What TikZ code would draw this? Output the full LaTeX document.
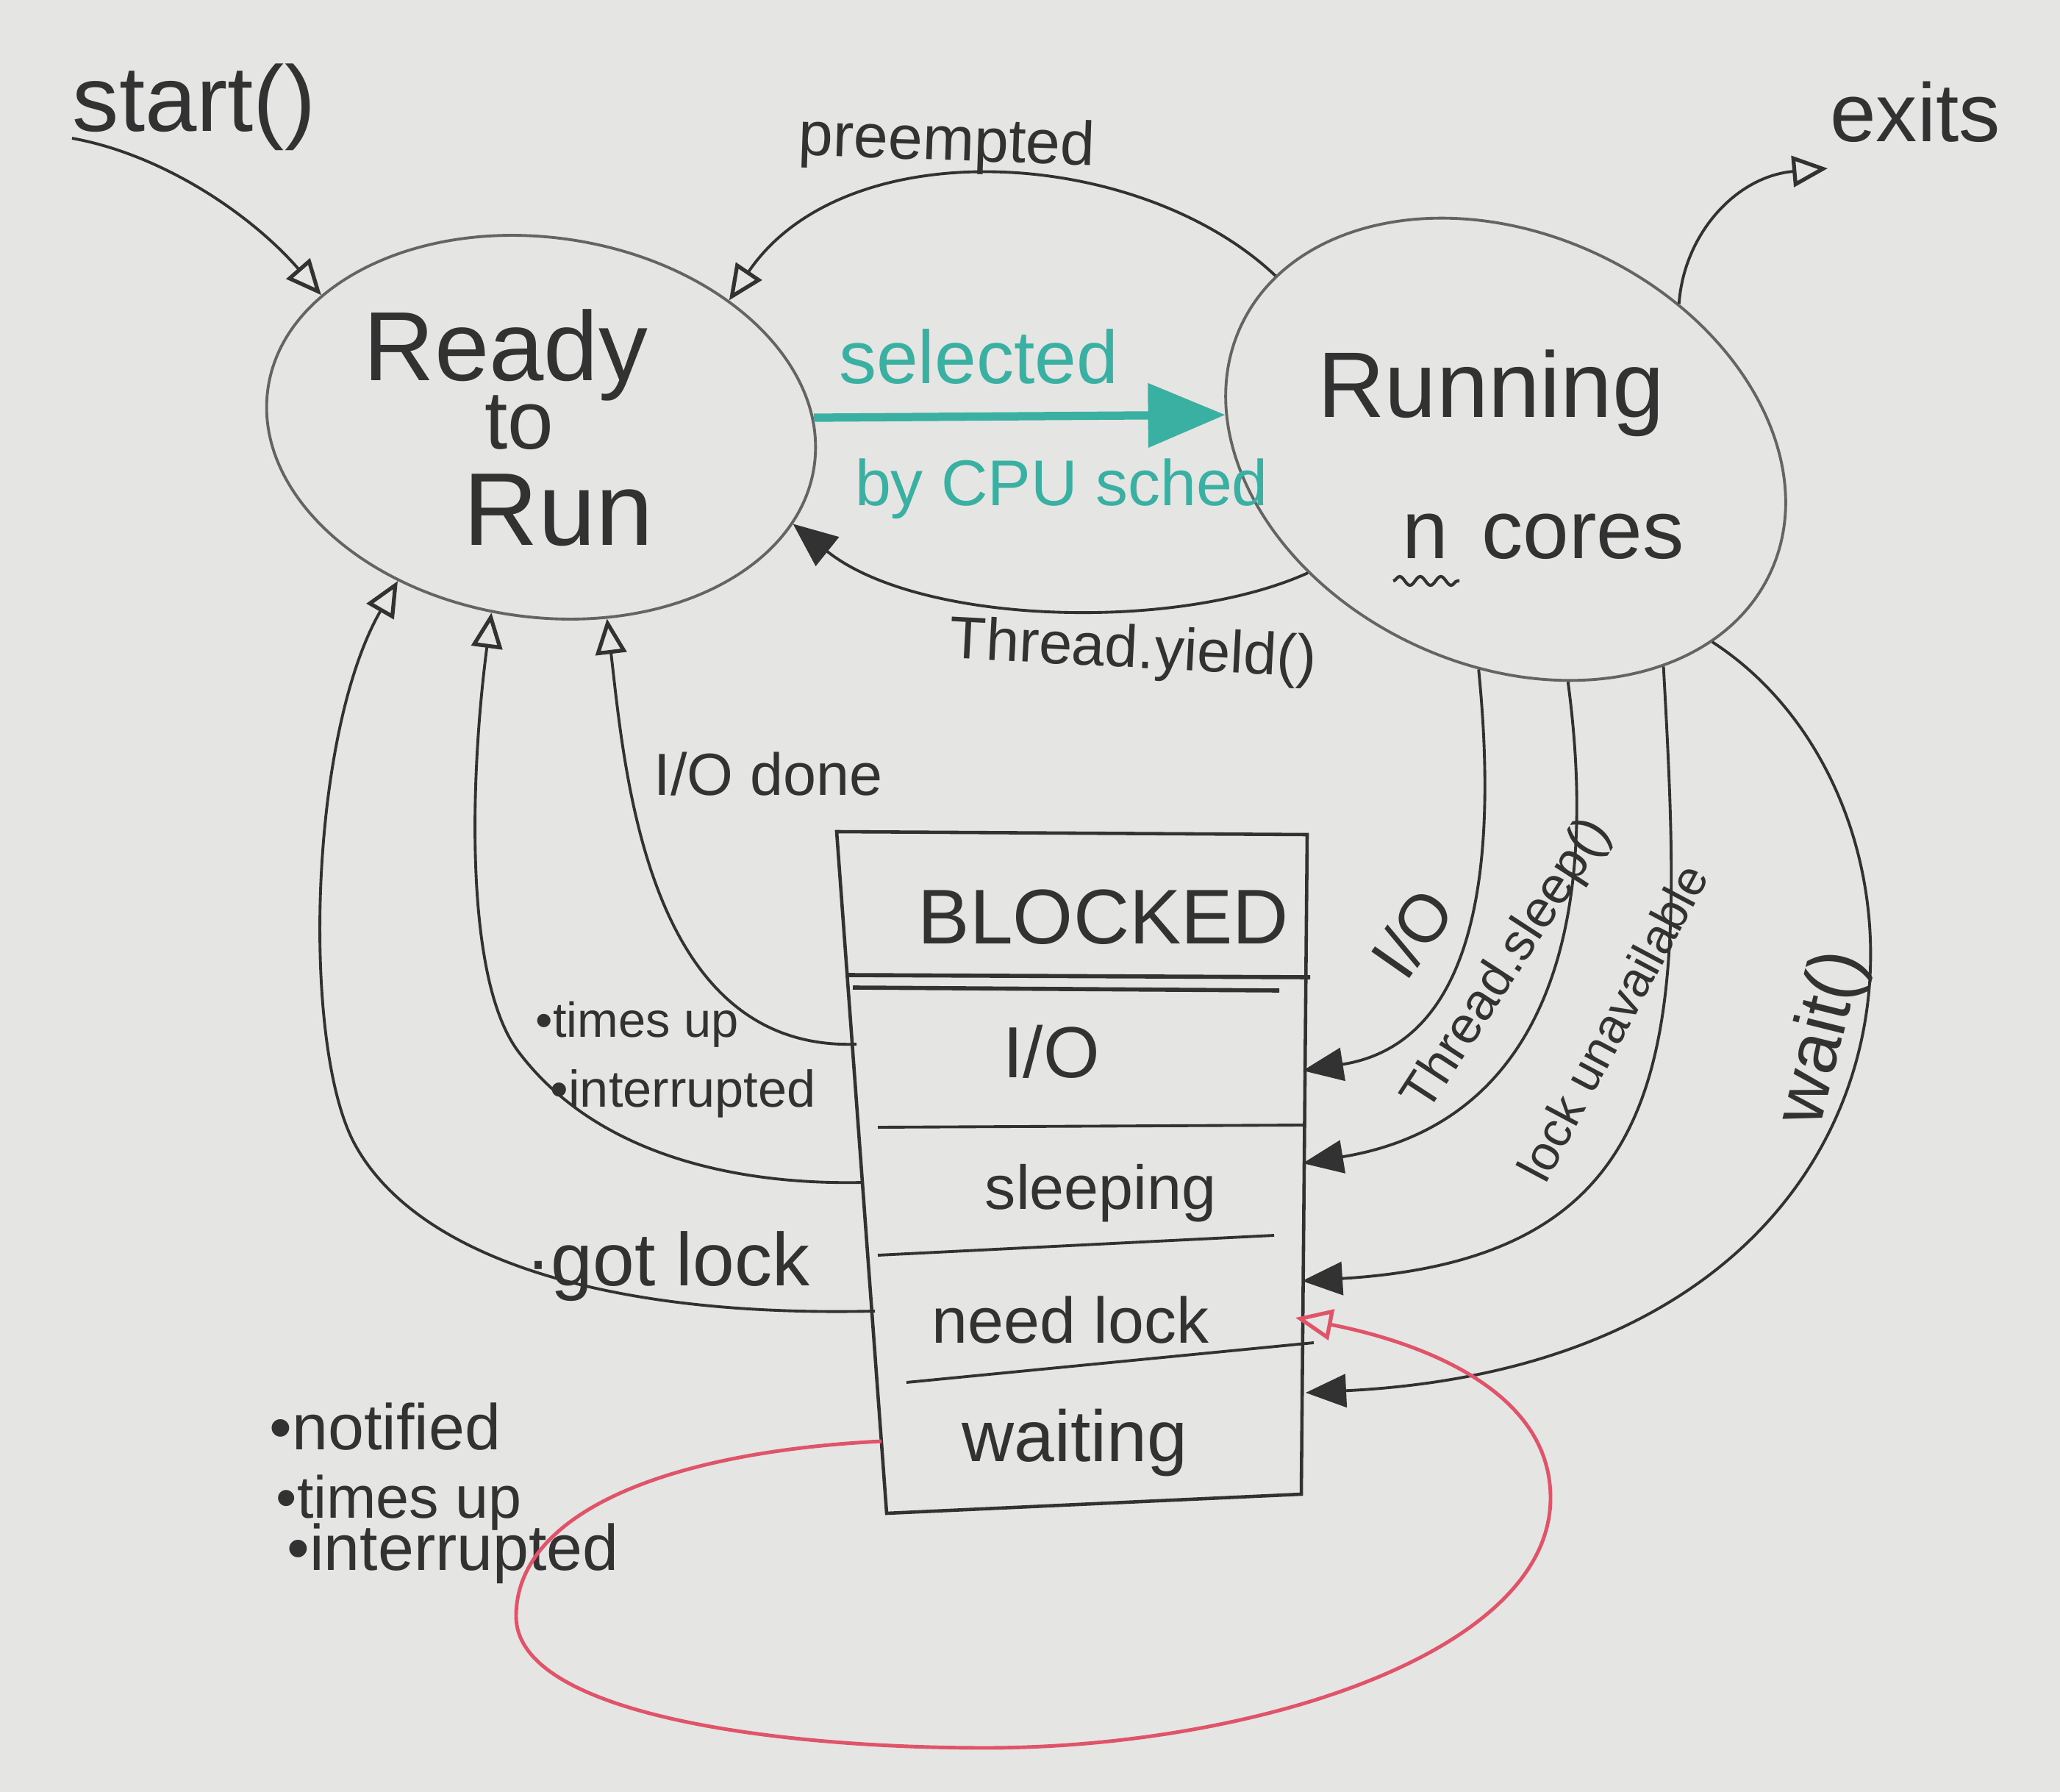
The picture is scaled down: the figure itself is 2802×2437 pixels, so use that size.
\documentclass[tikz,border=0pt]{standalone}
\usepackage{fontspec}
\setmainfont{Liberation Sans}
\usetikzlibrary{arrows.meta,shapes.geometric,calc,decorations.pathmorphing}
\definecolor{board}{RGB}{229,229,227}
\definecolor{ink}{RGB}{50,50,50}
\definecolor{pencil}{RGB}{100,100,100}
\definecolor{tealink}{RGB}{58,176,162}
\definecolor{redink}{RGB}{224,84,106}
\newcommand\hw[1]{\fontsize{#1}{#1}\selectfont}
\tikzset{
  state/.style={ellipse,draw=pencil,line width=1.1pt,inner sep=0pt},
  lbl/.style={inner sep=0pt,text=ink},
  conn/.style={draw=ink,line width=1.1pt},
  openhead/.style={-{Triangle[open,length=0.48cm,width=0.42cm,line width=1.5pt]}},
  fillhead/.style={-{Triangle[length=0.55cm,width=0.45cm]}},
  rule/.style={draw=ink,line width=1.1pt},
}
\begin{document}
\begin{tikzpicture}[x=0.01cm,y=-0.01cm]
\useasboundingbox[fill=board] (0,0) rectangle (2802,2437);

% ---- states
\node[state,minimum width=7.5cm,minimum height=5.16cm,rotate=-8] (ready) at (736,581) {};
\node[state,minimum width=7.94cm,minimum height=5.86cm,rotate=-25] (running) at (2048,611) {};

\node[lbl,font=\hw{38},anchor=base] (tReady) at (688,518) {Ready};
\node[lbl,font=\hw{32},anchor=base] (tTo) at (706,611) {to};
\node[lbl,font=\hw{40},anchor=base] (tRun) at (760,742) {Run};
\node[lbl,font=\hw{36},anchor=base] (tRunning) at (2028,568) {Running};
\node[lbl,font=\hw{32},anchor=base] (tN) at (1939,760) {n};
\node[lbl,font=\hw{32},anchor=base] (tCores) at (2153,760) {cores};
\draw[ink,line width=1.2pt,decorate,decoration={snake,amplitude=0.06cm,segment length=0.28cm}]
  ($(tN.base west)+(-12,30)$) -- ($(tN.base east)+(14,30)$);

% ---- blocked box
\draw[rule,line width=1.3pt] (1138,1131) -- (1778,1135) -- (1770,2032) -- (1206,2058) -- cycle;
\draw[rule,line width=1.6pt] (1150,1326) -- (1782,1329);
\draw[rule,line width=1.6pt] (1160,1343) -- (1740,1347);
\draw[rule] (1194,1533) -- (1772,1530);
\draw[rule] (1194,1707) -- (1733,1680);
\draw[rule] (1233,1880) -- (1787,1826);

\node[lbl,font=\hw{30},anchor=base] (tBlocked) at (1501,1283) {BLOCKED};
\node[lbl,font=\hw{28},anchor=base] (rIO) at (1430,1465) {I/O};
\node[lbl,font=\hw{24},anchor=base] (rSleep) at (1497,1644) {sleeping};
\node[lbl,font=\hw{25},anchor=base] (rLock) at (1456,1826) {need lock};
\node[lbl,font=\hw{28},anchor=base] (rWait) at (1462,1987) {waiting};

% ports on the box
\coordinate (pIO) at (1772,1456);
\coordinate (pSleep) at (1772,1582);
\coordinate (pLock) at (1771,1742);
\coordinate (pWait) at (1776,1894);
\coordinate (pRed) at (1762,1792);
\coordinate (qIO) at (1165,1420);
\coordinate (qSleep) at (1175,1608);
\coordinate (qLock) at (1190,1783);
\coordinate (qRed) at (1199,1960);

% ---- start
\node[lbl,font=\hw{36},anchor=base] (lStart) at (264,179) {start()};
\coordinate (startpt) at (98,188);
\draw[conn,openhead] (startpt) .. controls (220,210) and (340,290) .. (ready.157);

% ---- exits
\node[lbl,font=\hw{32},anchor=base] (lExits) at (2605,193) {exits};
\coordinate (exitpt) at (2486,229);
\draw[conn,openhead] (running.65) .. controls (2290,320) and (2360,240) .. (exitpt);

% ---- preempted
\node[lbl,font=\hw{24},anchor=base,rotate=-2] (lPre) at (1287,218) {preempted};
\draw[conn,openhead] (running.168) .. controls (1550,200) and (1150,175) .. (ready.42);

% ---- selected by CPU sched
\node[lbl,font=\hw{29},anchor=base,text=tealink] (lSel) at (1331,522) {selected};
\node[lbl,font=\hw{25},anchor=base,text=tealink] (lSched) at (1444,688) {by CPU sched};
\draw[draw=tealink,line width=3.2pt,-{Triangle[length=1.05cm,width=0.85cm]}] (ready.10) -- (running.198);

% ---- Thread.yield()
\node[lbl,font=\hw{23},anchor=base,rotate=-3] (lYield) at (1540,908) {Thread.yield()};
\draw[conn,-{Triangle[length=0.6cm,width=0.5cm]}] (running.237) .. controls (1600,860) and (1250,850) .. (ready.-13);

% ---- blocked -> ready
\node[lbl,font=\hw{23},anchor=base] (lIOdone) at (1045,1081) {I/O done};
\draw[conn,openhead] (qIO) .. controls (880,1430) and (850,1050) .. (ready.297);

\node[lbl,font=\hw{19},anchor=base west] (lTimes) at (728,1410) {•times up};
\node[lbl,font=\hw{20},anchor=base west] (lInt) at (748,1505) {•interrupted};
\draw[conn,openhead] (qSleep) .. controls (1000,1612) and (810,1570) .. (705,1430)
  .. controls (630,1330) and (640,1050) .. (ready.263);

\node[lbl,font=\hw{29},anchor=base west] (lGot) at (715,1748) {·got lock};
\draw[conn,openhead] (qLock) .. controls (800,1792) and (560,1700) .. (482,1555)
  .. controls (410,1420) and (420,1000) .. (ready.235);

% ---- running -> blocked
\node[lbl,font=\hw{26},rotate=55] (lIO) at (1921,1269) {I/O};
\draw[conn,fillhead] (running.288) .. controls (2040,1200) and (2000,1420) .. (pIO);

\node[lbl,font=\hw{20},rotate=57] (lSleep) at (2051,1313) {Thread.sleep()};
\draw[conn,fillhead] (running.310) .. controls (2180,1280) and (2090,1530) .. (pSleep);

\node[lbl,font=\hw{19},rotate=62] (lUnav) at (2193,1390) {lock unavailable};
\draw[conn,fillhead] (running.331) .. controls (2290,1400) and (2300,1710) .. (pLock);

\node[lbl,font=\hw{28},rotate=76] (lWait) at (2480,1412) {wait()};
\draw[conn,fillhead] (running.342) .. controls (2680,1100) and (2660,1850) .. (pWait);

% ---- waiting -> need lock (red loop)
\node[lbl,font=\hw{25},anchor=base west] (lNot) at (366,1971) {•notified};
\node[lbl,font=\hw{23},anchor=base west] (lTimes2) at (375,2064) {•times up};
\node[lbl,font=\hw{25},anchor=base west] (lInt2) at (390,2135) {•interrupted};
\draw[draw=redink,line width=1.4pt,-{Triangle[open,length=0.5cm,width=0.42cm,line width=1.5pt]}]
  (qRed) .. controls (900,1975) and (702,2060) .. (702,2198)
  .. controls (702,2330) and (1050,2377) .. (1340,2377)
  .. controls (1700,2377) and (2109,2250) .. (2109,2037)
  .. controls (2109,1870) and (1880,1815) .. (pRed);
\end{tikzpicture}
\end{document}
